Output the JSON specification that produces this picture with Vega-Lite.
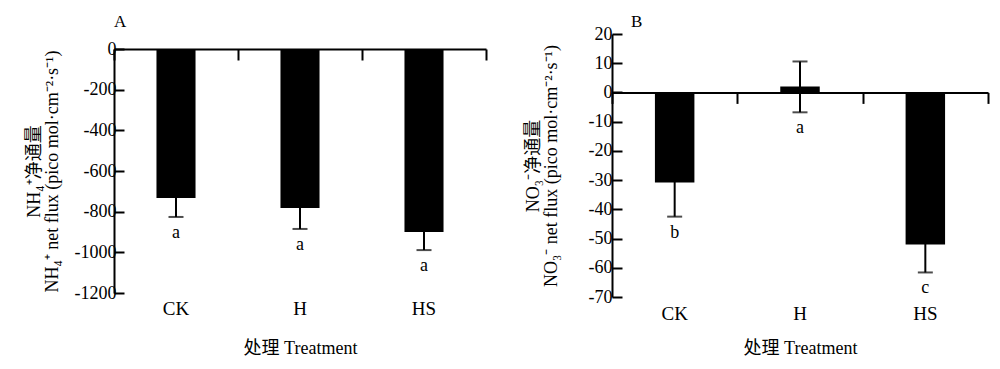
{
  "$schema": "https://vega.github.io/schema/vega-lite/v6.json",
  "background": "white",
  "padding": {"left": 25, "top": 13, "right": 5, "bottom": 5},
  "config": {
    "font": "Liberation Serif, Noto Sans CJK SC",
    "view": {"stroke": null},
    "axis": {"grid": false, "domainColor": "black", "tickColor": "black", "labelColor": "black", "titleColor": "black", "domainWidth": 2, "tickWidth": 2, "labelFontSize": 18, "titleFontSize": 18, "titleFontWeight": "normal", "labelFont": "Liberation Serif", "titleFont": "Liberation Serif, Noto Sans CJK SC", "labelOverlap": false},
    "title": {"font": "Liberation Serif", "fontSize": 17, "fontWeight": "normal", "color": "black"}
  },
  "datasets": {
    "A": [
      {"treatment": "CK", "mean": -733, "low": -826, "high": -640, "letter": "a"},
      {"treatment": "H", "mean": -782, "low": -885, "high": -679, "letter": "a"},
      {"treatment": "HS", "mean": -900, "low": -989, "high": -811, "letter": "a"}
    ],
    "B": [
      {"treatment": "CK", "mean": -30.8, "low": -42.5, "high": -19.1, "letter": "b"},
      {"treatment": "H", "mean": 2, "low": -6.8, "high": 10.6, "letter": "a"},
      {"treatment": "HS", "mean": -52, "low": -61.6, "high": -42.4, "letter": "c"}
    ]
  },
  "hconcat": [
    {
      "width": 372,
      "height": 259,
      "title": {"text": "A", "anchor": "start", "frame": "group", "offset": 3, "dx": 0},
      "data": {"name": "A"},
      "resolve": {"axis": {"x": "independent"}},
      "layer": [
        {
          "mark": {"type": "bar", "color": "black", "width": {"band": 0.315}},
          "encoding": {
            "x": {"field": "treatment", "type": "nominal", "sort": ["CK", "H", "HS"], "scale": {"paddingInner": 0, "paddingOuter": 0}, "axis": {"orient": "bottom", "domain": false, "ticks": false, "labelAngle": 0, "labelPadding": 6, "labelFontSize": 19, "title": "处理 Treatment", "titlePadding": 21}},
            "y": {"field": "mean", "type": "quantitative", "scale": {"domain": [-1200, 0], "nice": false, "range": [259, 15]}, "axis": {"values": [-1200, -1000, -800, -600, -400, -200, 0], "tickCount": 20, "labelExpr": "toString(datum.value)", "labelOverlap": false, "tickSize": -10, "labelPadding": 8, "title": ["NH₄⁺净通量", "NH₄⁺ net flux (pico mol·cm⁻²·s⁻¹)"], "titleLineHeight": 18, "titlePadding": 13}}
          }
        },
        {
          "mark": {"type": "rule", "color": "black", "strokeWidth": 2},
          "encoding": {
            "x": {"field": "treatment", "type": "nominal", "sort": ["CK", "H", "HS"], "axis": {"orient": "top", "offset": -15, "labels": false, "title": null, "tickBand": "extent", "tickSize": -11}},
            "y": {"field": "low", "type": "quantitative"},
            "y2": {"field": "high"}
          }
        },
        {
          "mark": {"type": "tick", "color": "black", "thickness": 2, "size": 15},
          "encoding": {"x": {"field": "treatment", "type": "nominal", "sort": ["CK", "H", "HS"], "axis": null}, "y": {"field": "low", "type": "quantitative"}}
        },
        {
          "mark": {"type": "tick", "color": "black", "thickness": 2, "size": 15},
          "encoding": {"x": {"field": "treatment", "type": "nominal", "sort": ["CK", "H", "HS"], "axis": null}, "y": {"field": "high", "type": "quantitative"}}
        },
        {
          "mark": {"type": "text", "color": "black", "fontSize": 18, "baseline": "middle", "dy": 16},
          "encoding": {"x": {"field": "treatment", "type": "nominal", "sort": ["CK", "H", "HS"], "axis": null}, "y": {"field": "low", "type": "quantitative"}, "text": {"field": "letter"}}
        }
      ]
    },
    {
      "width": 376,
      "height": 263,
      "title": {"text": "B", "anchor": "start", "frame": "group", "offset": -6, "dx": 19},
      "data": {"name": "B"},
      "resolve": {"axis": {"x": "independent"}},
      "layer": [
        {
          "mark": {"type": "bar", "color": "black", "width": {"band": 0.315}},
          "encoding": {
            "x": {"field": "treatment", "type": "nominal", "sort": ["CK", "H", "HS"], "scale": {"paddingInner": 0, "paddingOuter": 0}, "axis": {"orient": "bottom", "domain": false, "ticks": false, "labelAngle": 0, "labelPadding": 7, "labelFontSize": 19, "title": "处理 Treatment", "titlePadding": 16}},
            "y": {"field": "mean", "type": "quantitative", "scale": {"domain": [-70, 20], "nice": false}, "axis": {"values": [-70, -60, -50, -40, -30, -20, -10, 0, 10, 20], "tickCount": 20, "labelExpr": "toString(datum.value)", "labelOverlap": false, "tickSize": -10, "labelPadding": 10, "title": ["NO₃⁻净通量", "NO₃⁻ net flux (pico mol·cm⁻²·s⁻¹)"], "titleLineHeight": 18, "titlePadding": 28}}
          }
        },
        {
          "mark": {"type": "rule", "color": "black", "strokeWidth": 2},
          "encoding": {
            "x": {"field": "treatment", "type": "nominal", "sort": ["CK", "H", "HS"], "axis": {"orient": "top", "offset": -58.4, "labels": false, "title": null, "tickBand": "extent", "tickSize": -11}},
            "y": {"field": "low", "type": "quantitative"},
            "y2": {"field": "high"}
          }
        },
        {
          "mark": {"type": "tick", "color": "black", "thickness": 2, "size": 15},
          "encoding": {"x": {"field": "treatment", "type": "nominal", "sort": ["CK", "H", "HS"], "axis": null}, "y": {"field": "low", "type": "quantitative"}}
        },
        {
          "mark": {"type": "tick", "color": "black", "thickness": 2, "size": 15},
          "encoding": {"x": {"field": "treatment", "type": "nominal", "sort": ["CK", "H", "HS"], "axis": null}, "y": {"field": "high", "type": "quantitative"}}
        },
        {
          "mark": {"type": "text", "color": "black", "fontSize": 18, "baseline": "middle", "dy": 16},
          "encoding": {"x": {"field": "treatment", "type": "nominal", "sort": ["CK", "H", "HS"], "axis": null}, "y": {"field": "low", "type": "quantitative"}, "text": {"field": "letter"}}
        }
      ]
    }
  ],
  "spacing": 126,
  "bounds": "flush"
}
